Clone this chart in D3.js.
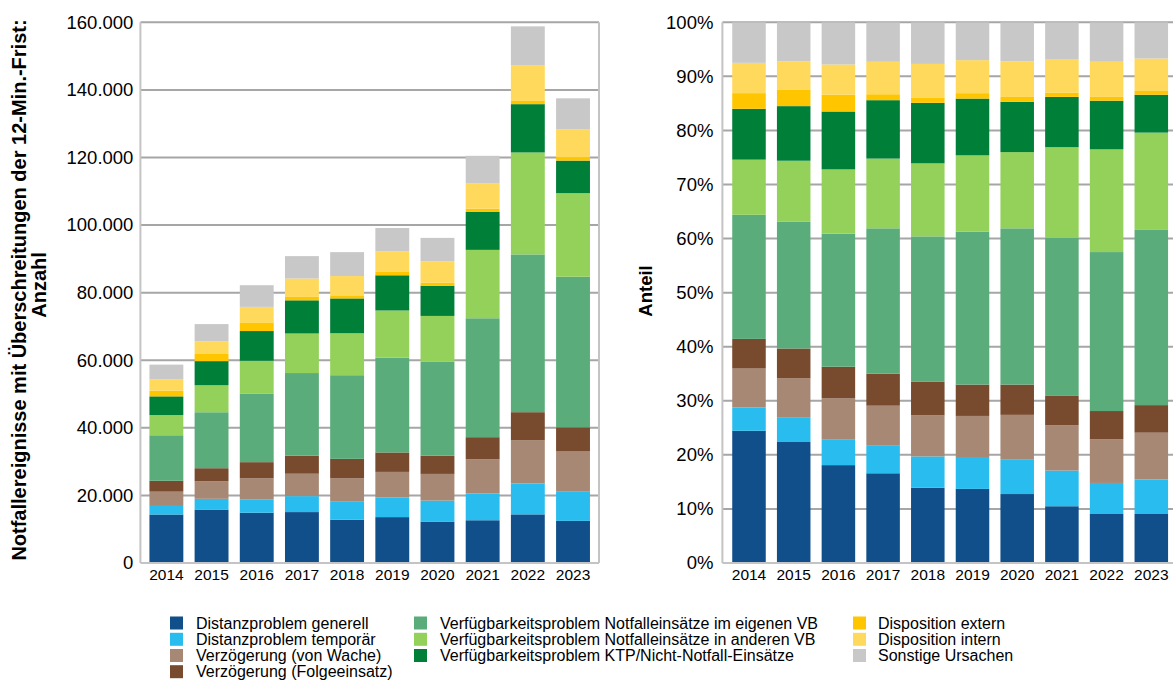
<!DOCTYPE html>
<html><head><meta charset="utf-8">
<script src="https://cdn.jsdelivr.net/npm/d3@7"></script>
<style>
html,body{margin:0;padding:0;background:#fff;}
svg{display:block;font-family:"Liberation Sans",Arial,sans-serif;}
</style></head>
<body><svg id="c" width="1173" height="680"></svg>
<script>
const years = ["2014","2015","2016","2017","2018","2019","2020","2021","2022","2023"];
const seriesNames = [
  "Distanzproblem generell",
  "Distanzproblem temporär",
  "Verzögerung (von Wache)",
  "Verzögerung (Folgeeinsatz)",
  "Verfügbarkeitsproblem Notfalleinsätze im eigenen VB",
  "Verfügbarkeitsproblem Notfalleinsätze in anderen VB",
  "Verfügbarkeitsproblem KTP/Nicht-Notfall-Einsätze",
  "Disposition extern",
  "Disposition intern",
  "Sonstige Ursachen"
];
const colors = ["#114F8B","#29BDEF","#A68875","#784A2E","#5AAD7B","#93D15A","#007F38","#FFC600","#FFD95B","#C8C8C8"];

const distanzGenerell   = [14350,15820,14880,15070,12790,13580,12270,12650,14390,12460];
const distanzTemporaer  = [2530,3170,3860,4720,5340,5850,6200,7950,9120,8790];
const verzWache         = [4230,5190,6330,6630,6990,7530,7890,10120,12860,11890];
const verzFolge         = [3220,3870,4770,5360,5700,5750,5390,6510,8260,7010];
const verfEigen         = [13470,16560,20220,24430,24750,28050,27800,35190,46690,44550];
const verfAndere        = [5990,7990,9780,11710,12420,13970,13560,20240,30170,24750];
const verfKTP           = [5520,7140,8800,9810,10300,10410,8950,11210,14290,9630];
const dispExtern        = [1700,2120,2550,1000,920,990,870,960,1110,960];
const dispIntern        = [3290,3750,4600,5450,5700,6050,6350,7470,10320,8250];
const sonstige          = [4400,5090,6410,6630,7080,6940,6930,8190,11590,9210];

const yTicksAbs = [0,20000,40000,60000,80000,100000,120000,140000,160000];
const yTicksPct = [0,0.1,0.2,0.3,0.4,0.5,0.6,0.7,0.8,0.9,1.0];

const seriesArrays = [distanzGenerell,distanzTemporaer,verzWache,verzFolge,verfEigen,verfAndere,verfKTP,dispExtern,dispIntern,sonstige];
const keys = seriesNames;
const rows = years.map((y,i)=>{const o={year:y}; keys.forEach((k,j)=>o[k]=seriesArrays[j][i]); return o;});

const svg = d3.select("#c");
const de = d3.formatLocale({decimal:",",thousands:".",grouping:[3],currency:["","€"]});
const fmtAbs = de.format(",.0f");

const GRID="#A6A6A6", AXIS="#C4C4C4";
const plotTop=22.3, plotBottom=563;

function drawChart(opts){
  const g = svg.append("g");
  const x = d3.scaleBand().domain(years).range([opts.x0,opts.x1]).paddingInner(0.25).paddingOuter(opts.po);
  const y = d3.scaleLinear().domain(opts.domain).range([plotBottom,plotTop]);
  g.append("g").selectAll("line").data(opts.ticks.filter(t=>t>opts.domain[0])).join("line")
    .attr("x1",opts.x0).attr("x2",opts.gridEnd).attr("y1",d=>y(d)).attr("y2",d=>y(d))
    .attr("stroke",GRID).attr("stroke-width",2);
  const stack = d3.stack().keys(keys);
  if(opts.expand) stack.offset(d3.stackOffsetExpand);
  const layers = stack(rows);
  g.append("g").selectAll("g").data(layers).join("g").attr("fill",(d,i)=>colors[i])
    .selectAll("rect").data(d=>d).join("rect")
    .attr("x",d=>x(d.data.year)).attr("width",x.bandwidth())
    .attr("y",d=>y(d[1])).attr("height",d=>y(d[0])-y(d[1]));
  g.append("line").attr("x1",opts.x0).attr("x2",opts.x0).attr("y1",plotTop).attr("y2",plotBottom).attr("stroke",AXIS).attr("stroke-width",2);
  g.append("line").attr("x1",opts.x0).attr("x2",opts.gridEnd).attr("y1",plotBottom).attr("y2",plotBottom).attr("stroke",AXIS).attr("stroke-width",2);
  if(opts.rightBorder) g.append("line").attr("x1",opts.x1).attr("x2",opts.x1).attr("y1",plotTop).attr("y2",plotBottom).attr("stroke",AXIS).attr("stroke-width",2);
  const ya = d3.axisLeft(y).tickValues(opts.ticks).tickFormat(opts.fmt).tickSize(0).tickPadding(opts.tickPad);
  const yg = g.append("g").attr("transform",`translate(${opts.x0},0)`).call(ya);
  yg.select(".domain").remove();
  yg.selectAll("text").attr("font-size","18.5px").attr("fill","#000").attr("font-family","'Liberation Sans',Arial,sans-serif");
  const xa = d3.axisBottom(x).tickSize(0).tickPadding(6);
  const xg = g.append("g").attr("transform",`translate(0,${plotBottom})`).call(xa);
  xg.select(".domain").remove();
  xg.selectAll("text").attr("font-size","15.5px").attr("fill","#000").attr("font-family","'Liberation Sans',Arial,sans-serif");
}

drawChart({x0:140.4,x1:599,gridEnd:599,po:0.2,domain:[0,160000],ticks:yTicksAbs,fmt:d=>fmtAbs(d),tickPad:7,rightBorder:true,expand:false});
drawChart({x0:722.4,x1:1177.9,gridEnd:1173,po:0.22,domain:[0,1],ticks:yTicksPct,fmt:d3.format(".0%"),tickPad:9,rightBorder:false,expand:true});

svg.append("text").attr("transform","translate(25.5,290) rotate(-90)").attr("text-anchor","middle")
  .attr("font-weight","bold").attr("font-size","20px").text("Notfallereignisse mit Überschreitungen der 12-Min.-Frist:");
svg.append("text").attr("transform","translate(45.5,285) rotate(-90)").attr("text-anchor","middle")
  .attr("font-weight","bold").attr("font-size","20px").text("Anzahl");
svg.append("text").attr("transform","translate(652,291) rotate(-90)").attr("text-anchor","middle")
  .attr("font-weight","bold").attr("font-size","18.5px").text("Anteil");

const cols = [{sx:170,tx:196,items:[0,1,2,3]},{sx:414,tx:440,items:[4,5,6]},{sx:853,tx:878,items:[7,8,9]}];
const rowY = [623,639.3,655.5,671.7];
const lg = svg.append("g");
cols.forEach(c=>{
  c.items.forEach((idx,r)=>{
    lg.append("rect").attr("x",c.sx).attr("y",rowY[r]-6.5).attr("width",13).attr("height",13).attr("fill",colors[idx]);
    lg.append("text").attr("x",c.tx).attr("y",rowY[r]).attr("dy","0.36em").attr("font-size","16px").attr("fill","#000").text(seriesNames[idx]);
  });
});
</script></body></html>
